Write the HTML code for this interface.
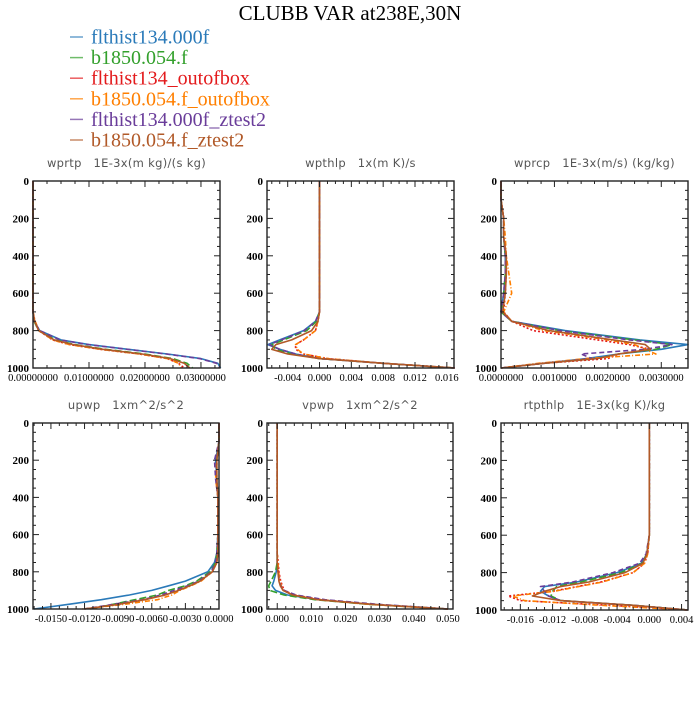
<!DOCTYPE html>
<html><head><meta charset="utf-8"><style>
body{margin:0;background:#fff;width:700px;height:700px;overflow:hidden}
svg text{font-family:"Liberation Serif",serif}
</style></head><body>
<svg id="chart" width="700" height="700">
<text x="350" y="20" text-anchor="middle" font-size="21">CLUBB VAR at238E,30N</text>
<g id="legend"></g>
<g id="panels"></g>
</svg>
<script>
const seriesNames=["flthist134.000f","b1850.054.f","flthist134_outofbox","b1850.054.f_outofbox","flthist134.000f_ztest2","b1850.054.f_ztest2"];
const colors=["#2a7ab9","#33a02c","#e31a1c","#ff7f00","#6a3d9a","#b15928"];
const dashes=["","7,3","2,2","5,2,1,2","5,3",""];
const levels=[0,100,200,300,400,500,600,700,750,800,850,875,900,925,950,975,1000];

const wprtpVals=[
[0,0,0,0,0,0,0,0,0.0002,0.0012,0.005,0.010,0.017,0.024,0.030,0.033,0.0335],
[0,0,0,0,0,0,0,0,0.0002,0.0010,0.0040,0.0075,0.013,0.020,0.025,0.0275,0.0285],
[0,0,0,0,0,0,0,0,0.0003,0.0010,0.0035,0.0065,0.012,0.019,0.024,0.026,0.027],
[0,0,0,0,0,0,0,0,0.0004,0.0011,0.0035,0.0065,0.012,0.019,0.024,0.026,0.0265],
[0,0,0,0,0,0,0,0,0.0002,0.0012,0.0048,0.0098,0.0168,0.0238,0.0298,0.0328,0.0334],
[0,0,0,0,0,0,0,0,0.0003,0.0010,0.0038,0.0072,0.0125,0.0195,0.0245,0.027,0.028]];
const wpthlpVals=[
[0,0,0,0,0,0,0,0,-0.0005,-0.002,-0.005,-0.0065,-0.005,-0.003,0,0.008,0.017],
[0,0,0,0,0,0,0,0,-0.0004,-0.0016,-0.0045,-0.006,-0.0055,-0.0035,0,0.008,0.017],
[0,0,0,0,0,0,0,0,-0.0002,-0.0005,-0.002,-0.003,-0.003,-0.002,0.001,0.008,0.017],
[0,0,0,0,0,0,0,0,-0.0002,-0.0005,-0.002,-0.003,-0.0028,-0.002,0.001,0.008,0.017],
[0,0,0,0,0,0,0,0,-0.0005,-0.0019,-0.0048,-0.0063,-0.005,-0.003,0,0.008,0.017],
[0,0,0,0,0,0,0,0,-0.0002,-0.001,-0.0035,-0.0055,-0.006,-0.004,0,0.008,0.017]];
const wprcpVals=[
[0,0,0.00005,0.00005,0.00008,0.00008,0.00005,0,0.0002,0.0012,0.0026,0.0035,0.003,0.0022,0.0016,0.0008,0],
[0,0,0.00005,0.00005,0.00008,0.00008,0.00005,0,0.0002,0.0011,0.0025,0.0032,0.0029,0.0022,0.0018,0.0008,0],
[0,0,0.00005,0.00005,0.0001,0.0001,0.00008,0.00005,0.0002,0.0006,0.0018,0.0024,0.0028,0.0022,0.002,0.0008,0],
[0,0,0.00005,0.00008,0.0001,0.00015,0.0002,0.00005,0.0002,0.0008,0.002,0.0025,0.0027,0.0029,0.0016,0.0007,0],
[0,0,0.00005,0.00005,0.00008,0.00008,0.00005,0,0.0002,0.0011,0.0024,0.0032,0.0027,0.0015,0.0017,0.0008,0],
[0,0,0.00005,0.00005,0.0001,0.0001,0.00008,0.00003,0.0002,0.0009,0.0021,0.0027,0.0028,0.0022,0.0018,0.0008,0]];
const upwpVals=[
[0,0,-0.0003,-0.0002,-0.0001,-0.0001,-0.0001,-0.0002,-0.0004,-0.001,-0.003,-0.0045,-0.006,-0.008,-0.0105,-0.0135,-0.0165],
[0,0,-0.0002,-0.0002,-0.0001,-0.0001,-0.0001,-0.0002,-0.0003,-0.0008,-0.002,-0.003,-0.0045,-0.0055,-0.0075,-0.0095,-0.0115],
[0,0,-0.0002,-0.0002,-0.0001,-0.0001,-0.0001,-0.0001,-0.0002,-0.0006,-0.0017,-0.0026,-0.0037,-0.0048,-0.0068,-0.0092,-0.012],
[0,0,-0.0002,-0.0003,-0.0001,-0.0001,-0.0001,-0.0001,-0.0002,-0.0006,-0.0016,-0.0025,-0.0035,-0.0042,-0.0055,-0.0085,-0.0122],
[0,0,-0.0004,-0.0003,-0.0001,-0.0001,-0.0001,-0.0002,-0.0003,-0.0007,-0.0018,-0.0028,-0.004,-0.0052,-0.0068,-0.0095,-0.012],
[0,0,-0.0002,-0.0002,-0.0001,-0.0001,-0.0001,-0.0001,-0.0002,-0.0006,-0.0017,-0.0026,-0.0036,-0.0048,-0.0066,-0.009,-0.012]];
const vpwpVals=[
[0,0,0,0,0,0,0,0,0,-0.0003,-0.001,-0.0015,-0.0005,0.003,0.012,0.028,0.05],
[0,0,0,0,0,0,0,0,0,-0.0005,-0.0018,-0.0025,-0.0022,0.002,0.011,0.027,0.05],
[0,0,0,0,0,0,0,0,0.0003,0.0005,0.001,0.0015,0.002,0.005,0.013,0.028,0.05],
[0,0,0,0,0,0,0,0,0.0002,0.0004,0.0008,0.0012,0.0018,0.0045,0.012,0.027,0.05],
[0,0,0,0,0,0,0,0,0,0.0002,0.0006,0.001,0.002,0.0055,0.014,0.03,0.05],
[0,0,0,0,0,0,0,0,0,0.0002,0.0005,0.0009,0.0017,0.0045,0.012,0.028,0.05]];
const rtpthlpVals=[
[0,0,0,0,0,0,0,-0.0003,-0.001,-0.004,-0.009,-0.013,-0.0135,-0.0125,-0.011,-0.002,0.0048],
[0,0,0,0,0,0,0,-0.0003,-0.0009,-0.0035,-0.0085,-0.0115,-0.012,-0.0122,-0.011,-0.002,0.0048],
[0,0,0,0,0,0,0,-0.0002,-0.0006,-0.002,-0.006,-0.009,-0.012,-0.0175,-0.016,-0.005,0.0048],
[0,0,0,0,0,0,0,-0.0002,-0.0006,-0.002,-0.0058,-0.0088,-0.0118,-0.017,-0.0155,-0.006,0.0048],
[0,0,0,0,0,0,0,-0.0004,-0.0012,-0.0045,-0.0095,-0.0135,-0.013,-0.0125,-0.011,-0.002,0.0048],
[0,0,0,0,0,0,0,-0.0003,-0.0008,-0.003,-0.0075,-0.011,-0.013,-0.0145,-0.011,-0.002,0.0048]];

const panels=[
 {name:"wprtp",title:"wprtp   1E-3x(m kg)/(s kg)",x:33,y:181,w:187,h:187,xmin:0,xmax:0.0334,ticks:[0,0.01,0.02,0.03],labels:["0.00000000","0.01000000","0.02000000","0.03000000"],minor:0.0025,vals:wprtpVals},
 {name:"wpthlp",title:"wpthlp   1x(m K)/s",x:267,y:181,w:187,h:187,xmin:-0.0066,xmax:0.0169,ticks:[-0.004,0,0.004,0.008,0.012,0.016],labels:["-0.004","0.000","0.004","0.008","0.012","0.016"],minor:0.001,vals:wpthlpVals},
 {name:"wprcp",title:"wprcp   1E-3x(m/s) (kg/kg)",x:501,y:181,w:187,h:187,xmin:0,xmax:0.0035,ticks:[0,0.001,0.002,0.003],labels:["0.0000000","0.0010000","0.0020000","0.0030000"],minor:0.00025,vals:wprcpVals},
 {name:"upwp",title:"upwp   1xm^2/s^2",x:33,y:423,w:186,h:186,xmin:-0.0166,xmax:0,ticks:[-0.015,-0.012,-0.009,-0.006,-0.003,0],labels:["-0.0150","-0.0120","-0.0090","-0.0060","-0.0030","0.0000"],minor:0.00075,vals:upwpVals},
 {name:"vpwp",title:"vpwp   1xm^2/s^2",x:267,y:423,w:186,h:186,xmin:-0.003,xmax:0.0515,ticks:[0,0.01,0.02,0.03,0.04,0.05],labels:["0.000","0.010","0.020","0.030","0.040","0.050"],minor:0.0025,vals:vpwpVals},
 {name:"rtpthlp",title:"rtpthlp   1E-3x(kg K)/kg",x:501,y:423,w:187,h:187,xmin:-0.0184,xmax:0.0048,ticks:[-0.016,-0.012,-0.008,-0.004,0,0.004],labels:["-0.016","-0.012","-0.008","-0.004","0.000","0.004"],minor:0.001,vals:rtpthlpVals}];
const yTicks=[0,200,400,600,800,1000];

const NS="http://www.w3.org/2000/svg";
function mk(tag,attrs,parent){const e=document.createElementNS(NS,tag);for(const k in attrs)e.setAttribute(k,attrs[k]);parent.appendChild(e);return e;}

const leg=document.getElementById('legend');
seriesNames.forEach((n,i)=>{
 const yy=37+i*20.6;
 const l=mk('line',{x1:70,x2:83,y1:yy,y2:yy,stroke:colors[i],'stroke-width':1.5,opacity:0.7},leg);
 
 
 const t=mk('text',{x:91,y:yy+6.5,fill:colors[i],'font-size':20},leg);
 t.textContent=n;
 
 
});

const root=document.getElementById('panels');
panels.forEach(p=>{
 const g=mk('g',{},root);
 
 
 const sx=v=>p.x+(v-p.xmin)/(p.xmax-p.xmin)*p.w;
 const sy=v=>p.y+v/1000*p.h;
 const tt=mk('text',{x:p.x+p.w/2,y:p.y-14,'text-anchor':'middle','font-size':11.5,fill:'#555',style:'font-family:"DejaVu Sans",sans-serif;letter-spacing:0.3px;white-space:pre'},g);
 tt.textContent=p.title;
 
 
 p.vals.forEach((vals,i)=>{
  const d=vals.map((v,k)=>(k?'L':'M')+sx(v).toFixed(1)+','+sy(levels[k]).toFixed(1)).join('');
  const path=mk('path',{d:d,fill:'none',stroke:colors[i],'stroke-width':1.6,'stroke-dasharray':dashes[i],'stroke-linejoin':'round'},g);
  
  
 });
 const fr=mk('rect',{x:p.x,y:p.y,width:p.w,height:p.h,fill:'none',stroke:'#222','stroke-width':1.4},g);
 
 
 for(let v=0;v<=1000;v+=50){
  const len=v%200===0?6:3;
  mk('line',{x1:p.x,x2:p.x+len,y1:sy(v),y2:sy(v),stroke:'#222','stroke-width':1},g);
  mk('line',{x1:p.x+p.w,x2:p.x+p.w-len,y1:sy(v),y2:sy(v),stroke:'#222','stroke-width':1},g);
 }
 yTicks.forEach(v=>{
  const t=mk('text',{x:p.x-4,y:sy(v)+4,'text-anchor':'end','font-size':11,'font-weight':'bold'},g);
  t.textContent=v;
  
  
 });
 const start=Math.ceil(p.xmin/p.minor-1e-6);
 for(let k=start;k*p.minor<=p.xmax+1e-9;k++){
  const v=k*p.minor;
  const major=p.ticks.some(t=>Math.abs(t-v)<p.minor/10);
  const len=major?6:3;
  mk('line',{x1:sx(v),x2:sx(v),y1:p.y+p.h,y2:p.y+p.h-len,stroke:'#222','stroke-width':1},g);
  mk('line',{x1:sx(v),x2:sx(v),y1:p.y,y2:p.y+len,stroke:'#222','stroke-width':1},g);
 }
 p.ticks.forEach((v,i)=>{
  const t=mk('text',{x:sx(v),y:p.y+p.h+13,'text-anchor':'middle','font-size':10.5},g);
  t.textContent=p.labels[i];
  
  
 });
});
</script>
</body></html>
